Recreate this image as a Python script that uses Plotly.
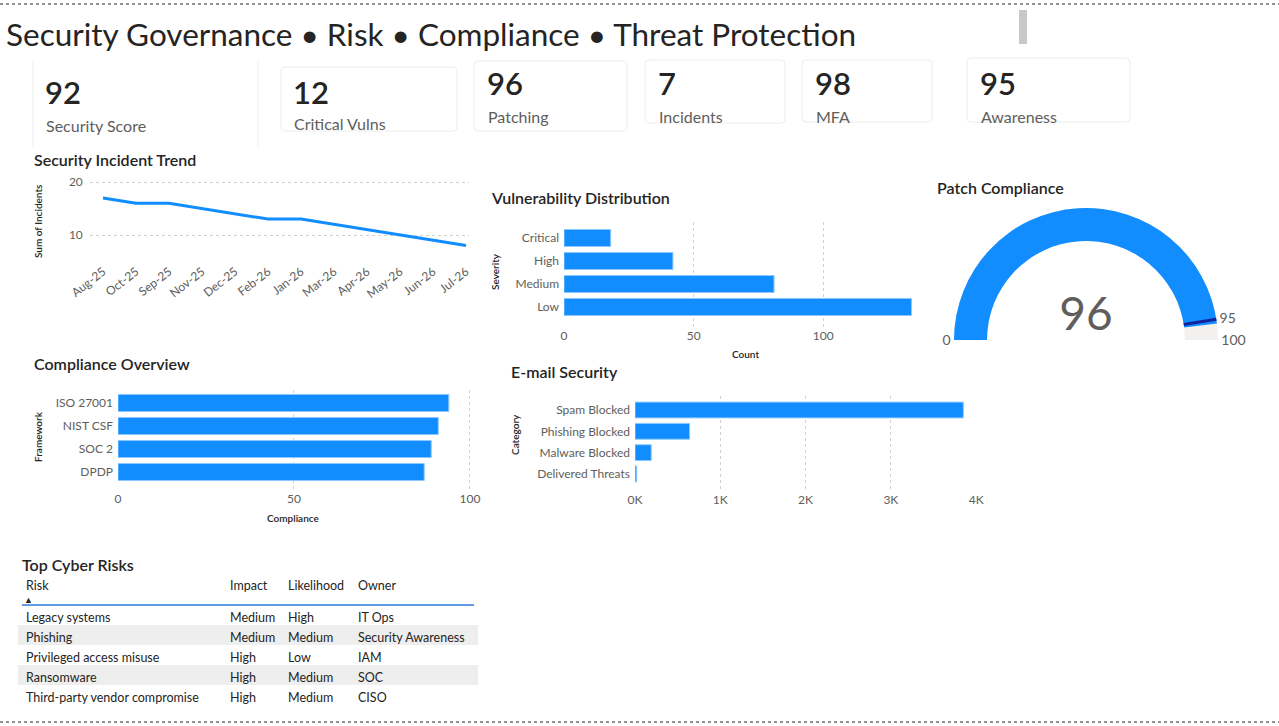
import plotly.graph_objects as go

W, H = 1279, 726

# ---------------- data ----------------
title_text = "Security Governance • Risk • Compliance • Threat Protection"

kpi_values = [92, 12, 96, 7, 98, 95]
kpi_labels = ["Security Score", "Critical Vulns", "Patching", "Incidents", "MFA", "Awareness"]

trend_months = ["Aug-25", "Oct-25", "Sep-25", "Nov-25", "Dec-25", "Feb-26",
                "Jan-26", "Mar-26", "Apr-26", "May-26", "Jun-26", "Jul-26"]
trend_incidents = [17, 16, 16, 15, 14, 13, 13, 12, 11, 10, 9, 8]

vuln_severity = ["Critical", "High", "Medium", "Low"]
vuln_count = [18, 42, 81, 134]

patch_value = 96
patch_target = 95
patch_min = 0
patch_max = 100

compliance_framework = ["ISO 27001", "NIST CSF", "SOC 2", "DPDP"]
compliance_score = [94, 91, 89, 87]

email_category = ["Spam Blocked", "Phishing Blocked", "Malware Blocked", "Delivered Threats"]
email_count = [3850, 640, 190, 20]
email_tickvals = [0, 1000, 2000, 3000, 4000]
email_ticktext = ["0K", "1K", "2K", "3K", "4K"]

risk_headers = ["Risk", "Impact", "Likelihood", "Owner"]
risk_name = ["Legacy systems", "Phishing", "Privileged access misuse", "Ransomware",
             "Third-party vendor compromise"]
risk_impact = ["Medium", "Medium", "High", "High", "High"]
risk_likelihood = ["High", "Medium", "Low", "Medium", "Medium"]
risk_owner = ["IT Ops", "Security Awareness", "IAM", "SOC", "CISO"]

# ---------------- style ----------------
FONT = "Segoe UI, Lato, Noto Sans, sans-serif"
TITLE_FONT = "Lato, Noto Sans, sans-serif"
BLUE = "#118DFF"
DARK = "#252423"
GREY = "#605E5C"
GRID = "#D2D0CE"


def px(x):
    return x / W


def py(y):
    return 1 - y / H


def dxr(a, b):
    return [px(a), px(b)]


def dyr(top, bottom):
    return [py(bottom), py(top)]


fig = go.Figure()

# ---- line chart ----
fig.add_trace(go.Scatter(x=trend_months, y=trend_incidents, mode="lines",
                         line=dict(color=BLUE, width=3), xaxis="x", yaxis="y",
                         hoverinfo="skip"))
# ---- vulnerability bars ----
fig.add_trace(go.Bar(x=vuln_count, y=vuln_severity, orientation="h", marker_color=BLUE,
                     marker_line=dict(color="#8CC8FF", width=1),
                     xaxis="x2", yaxis="y2", hoverinfo="skip"))
# ---- compliance bars ----
fig.add_trace(go.Bar(x=compliance_score, y=compliance_framework, orientation="h",
                     marker_color=BLUE, marker_line=dict(color="#8CC8FF", width=1),
                     xaxis="x3", yaxis="y3", hoverinfo="skip"))
# ---- email bars ----
fig.add_trace(go.Bar(x=email_count, y=email_category, orientation="h", marker_color=BLUE,
                     marker_line=dict(color="#8CC8FF", width=1),
                     xaxis="x4", yaxis="y4", hoverinfo="skip"))

# ---- gauge ----
fig.add_trace(go.Indicator(
    mode="gauge+number", value=patch_value,
    domain=dict(x=dxr(1086 - 150, 1086 + 150), y=dyr(208, 340)),
    number=dict(font=dict(size=46, color=GREY, family=FONT)),
    gauge=dict(
        shape="angular",
        axis=dict(range=[patch_min, patch_max],
                  tickvals=[patch_min, patch_target, patch_max],
                  ticklen=0, tickwidth=0, tickcolor="white",
                  tickfont=dict(size=14, color=GREY, family=FONT)),
        bar=dict(color=BLUE, thickness=1, line=dict(width=0)),
        bgcolor="#F2F1F0", borderwidth=0,
        threshold=dict(line=dict(color="#12239E", width=3), thickness=1, value=patch_target),
    ),
))

# ---- table ----
row_fill = ["#FFFFFF" if i % 2 == 0 else "#EEEEEE" for i in range(len(risk_name))]
fig.add_trace(go.Table(
    domain=dict(x=dxr(18, 478), y=dyr(573, 712)),
    columnwidth=[204, 58, 70, 128],
    header=dict(values=risk_headers, align="left", fill_color="white",
                line=dict(width=0, color="white"), height=32,
                font=dict(size=12.5, color=DARK, family=FONT)),
    cells=dict(values=[risk_name, risk_impact, risk_likelihood, risk_owner],
               align="left", fill_color=[row_fill] * 4,
               line=dict(width=0, color=[row_fill] * 4), height=20,
               font=dict(size=12.5, color=DARK, family=FONT)),
))

tickfont = dict(size=12, color=GREY, family=FONT)
grid = dict(showgrid=True, gridcolor=GRID, griddash="dot", gridwidth=1, zeroline=False,
            showline=False, ticks="", automargin=False)
nogrid = dict(showgrid=False, zeroline=False, showline=False, ticks="", automargin=False)

fig.update_layout(
    width=W, height=H, autosize=False,
    margin=dict(l=0, r=0, t=0, b=0, pad=0),
    paper_bgcolor="white", plot_bgcolor="white",
    showlegend=False, hovermode=False,
    font=dict(family=FONT, color=DARK),
    bargap=0.26,
    xaxis=dict(domain=dxr(89.8, 469.3), range=[-0.4, 11.1], type="category",
               tickangle=-38, tickfont=tickfont, **nogrid),
    yaxis=dict(domain=dyr(176.7, 261.5), range=[5, 21], tick0=0, dtick=10,
               tickfont=tickfont, ticklabelstandoff=6, **grid),
    xaxis2=dict(domain=dxr(564, 912), range=[0, 134.2], tick0=0, dtick=50,
                tickfont=tickfont, anchor="y2", **grid),
    yaxis2=dict(domain=dyr(222, 327), range=[3.87, -0.696], type="category",
                tickfont=tickfont, anchor="x2", ticklabelstandoff=4, **nogrid),
    xaxis3=dict(domain=dxr(118, 471), range=[0, 100.3], tick0=0, dtick=50,
                tickfont=tickfont, anchor="y3", **grid),
    yaxis3=dict(domain=dyr(390, 490), range=[3.783, -0.565], type="category",
                tickfont=tickfont, anchor="x3", ticklabelstandoff=4, **nogrid),
    xaxis4=dict(domain=dxr(635, 977), range=[0, 4010], tickvals=email_tickvals,
                ticktext=email_ticktext, tickfont=tickfont, anchor="y4", **grid),
    yaxis4=dict(domain=dyr(396, 491), range=[3.80, -0.657], type="category",
                tickfont=tickfont, anchor="x4", ticklabelstandoff=4, **nogrid),
)

shapes = []
annotations = []


def text(x, y, s, size, color=DARK, weight=400, family=FONT, xanchor="left", angle=0):
    annotations.append(dict(xref="paper", yref="paper", x=px(x), y=py(y), text=s,
                            showarrow=False, xanchor=xanchor, yanchor="middle",
                            textangle=angle,
                            font=dict(size=size, color=color, family=family, weight=weight)))


def rrect(x0, y0, x1, y1, r=4, color="#ECECEC"):
    X0, X1 = px(x0), px(x1)
    Y0, Y1 = py(y0), py(y1)
    rx, ry = r / W, r / H
    path = (f"M {X0 + rx},{Y0} L {X1 - rx},{Y0} Q {X1},{Y0} {X1},{Y0 - ry} "
            f"L {X1},{Y1 + ry} Q {X1},{Y1} {X1 - rx},{Y1} L {X0 + rx},{Y1} "
            f"Q {X0},{Y1} {X0},{Y1 + ry} L {X0},{Y0 - ry} Q {X0},{Y0} {X0 + rx},{Y0} Z")
    shapes.append(dict(type="path", xref="paper", yref="paper", path=path,
                       line=dict(color=color, width=1), fillcolor="rgba(0,0,0,0)",
                       layer="below"))


def hline(x0, x1, y, color, width=1, dash="solid"):
    shapes.append(dict(type="line", xref="paper", yref="paper", x0=px(x0), x1=px(x1),
                       y0=py(y), y1=py(y), line=dict(color=color, width=width, dash=dash)))


def vline(x, y0, y1, color, width=1):
    shapes.append(dict(type="line", xref="paper", yref="paper", x0=px(x), x1=px(x),
                       y0=py(y0), y1=py(y1), line=dict(color=color, width=width)))


# borders
hline(0, W, 4, "#6E6E6E", 1.5, "dot")
hline(0, W, 722, "#6E6E6E", 1.5, "dot")
shapes.append(dict(type="rect", xref="paper", yref="paper", x0=px(1019), x1=px(1027),
                   y0=py(44), y1=py(10), fillcolor="#C8C8C8", line=dict(width=0)))

# title
text(4, 34, title_text, 31.5, DARK)

# KPI cards (layout only)
vline(33, 60, 148, "#EFEFEF")
vline(258, 60, 148, "#EFEFEF")
rrect(281, 67, 457, 131)
rrect(474, 61, 627, 131)
rrect(645, 60, 785, 123)
rrect(802, 60, 932, 122)
rrect(967, 58, 1130, 122)
card_text = [(45, 92, 125), (293, 92, 124), (487, 83, 116), (658, 83, 116),
             (815, 83, 116), (980, 83, 116)]
for (tx, ny, ly), v, lab in zip(card_text, kpi_values, kpi_labels):
    text(tx - 2, ny, str(v), 31, DARK, 600)
    text(tx - 1, ly, lab, 16, GREY)

# visual titles
for tx, ty, s in [(32, 159, "Security Incident Trend"), (489, 198, "Vulnerability Distribution"),
                  (935, 188, "Patch Compliance"), (32, 364, "Compliance Overview"),
                  (509, 372, "E-mail Security"), (20, 564, "Top Cyber Risks")]:
    text(tx, ty, s, 16, DARK, 600, TITLE_FONT)

# axis titles
text(38, 221, "Sum of Incidents", 10, DARK, 600, xanchor="center", angle=-90)
text(495, 272, "Severity", 10, DARK, 600, xanchor="center", angle=-90)
text(745, 354, "Count", 10, DARK, 600, xanchor="center")
text(38, 437, "Framework", 10, DARK, 600, xanchor="center", angle=-90)
text(293, 518, "Compliance", 10, DARK, 600, xanchor="center")
text(515, 435, "Category", 10, DARK, 600, xanchor="center", angle=-90)

# table header underline and sort arrow
hline(22, 474, 605, "#2B7BD6", 1.5)
text(29, 599, "▲", 9, DARK, xanchor="center")

fig.update_layout(shapes=shapes, annotations=annotations)
fig.write_html("out.html")
